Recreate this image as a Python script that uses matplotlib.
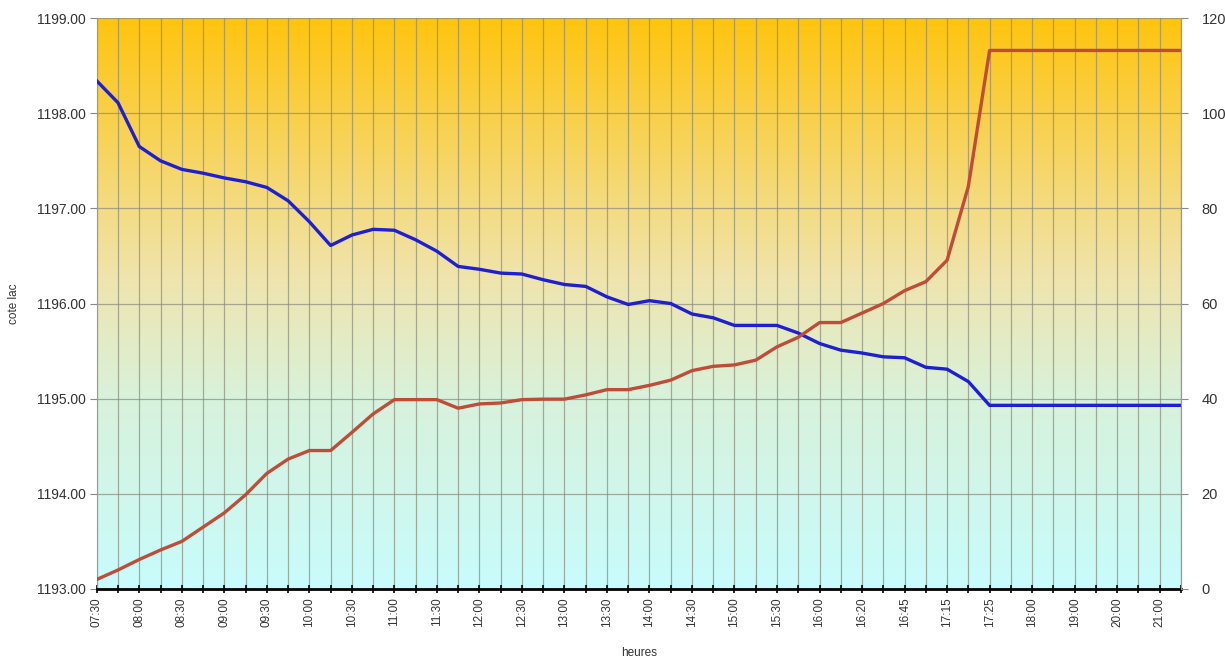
import numpy as np
import matplotlib
matplotlib.use("Agg")
import matplotlib.pyplot as plt
from matplotlib.colors import LinearSegmentedColormap

plt.rcParams.update({
    "font.family": ["Liberation Sans", "DejaVu Sans"],
    "font.size": 9,
})

# categories (15 min steps, later irregular) - labels shown every other one
times = ["07:30", "07:45", "08:00", "08:15", "08:30", "08:45", "09:00", "09:15",
         "09:30", "09:45", "10:00", "10:15", "10:30", "10:45", "11:00", "11:15",
         "11:30", "11:45", "12:00", "12:15", "12:30", "12:45", "13:00", "13:15",
         "13:30", "13:45", "14:00", "14:15", "14:30", "14:45", "15:00", "15:15",
         "15:30", "15:45", "16:00", "16:10", "16:20", "16:30", "16:45", "17:00",
         "17:15", "17:20", "17:25", "17:45", "18:00", "18:30", "19:00", "19:30",
         "20:00", "20:30", "21:00", "21:30"]

# cote lac (left axis)
cote = [1198.34, 1198.11, 1197.65, 1197.50, 1197.41, 1197.37, 1197.32, 1197.28,
        1197.22, 1197.08, 1196.86, 1196.61, 1196.72, 1196.78, 1196.77, 1196.67,
        1196.55, 1196.39, 1196.36, 1196.32, 1196.31, 1196.25, 1196.20, 1196.18,
        1196.07, 1195.99, 1196.03, 1196.00, 1195.89, 1195.85, 1195.77, 1195.77,
        1195.77, 1195.69, 1195.58, 1195.51, 1195.48, 1195.44, 1195.43, 1195.33,
        1195.31, 1195.18, 1194.93, 1194.93, 1194.93, 1194.93, 1194.93, 1194.93,
        1194.93, 1194.93, 1194.93, 1194.93]

# second series (right axis)
serie2 = [2.0, 4.0, 6.2, 8.2, 10.0, 13.0, 16.0, 19.8, 24.3, 27.3, 29.1, 29.1,
          32.9, 36.8, 39.8, 39.8, 39.8, 38.0, 38.9, 39.1, 39.8, 39.9, 39.9, 40.8,
          41.9, 41.9, 42.8, 43.9, 45.9, 46.8, 47.1, 48.1, 50.9, 52.9, 56.0, 56.0,
          58.0, 60.0, 62.7, 64.6, 69.1, 84.6, 113.2, 113.2, 113.2, 113.2, 113.2,
          113.2, 113.2, 113.2, 113.2, 113.2]

left_ticks = [1193, 1194, 1195, 1196, 1197, 1198, 1199]
right_ticks = [0, 20, 40, 60, 80, 100, 120]

fig = plt.figure(figsize=(12.25, 6.6), dpi=100)
ax = fig.add_axes([0.079, 0.1076, 0.885, 0.865])

# gradient background: gold at top -> light cyan at bottom
grad = LinearSegmentedColormap.from_list(
    "bg", [(0.0, "#C8FCFC"), (0.33, "#D8F2DC"), (0.55, "#F0E4AC"), (1.0, "#FFC40E")])
ax.imshow(np.linspace(0, 1, 256).reshape(-1, 1), cmap=grad, origin="lower",
          extent=[0, 1, 0, 1], transform=ax.transAxes, aspect="auto", zorder=-2)

ax.plot(times, cote, color="#1E1ED2", lw=2.4, zorder=3)
ax.set_xlim(0, len(times) - 1)
ax.set_ylim(1193, 1199)
ax.set_yticks(left_ticks)
ax.set_yticklabels([f"{v:.2f}" for v in left_ticks], fontsize=10, color="#333333")
ax.set_xticks(range(len(times)))
ax.set_xticklabels([t if i % 2 == 0 else "" for i, t in enumerate(times)],
                   rotation=90, fontsize=8.5, color="#333333")
ax.grid(True, color="#8a8a7a", lw=0.9, alpha=0.7, zorder=0)
ax.set_axisbelow(True)
ax.tick_params(axis="x", direction="inout", length=6, width=1.2, color="black", pad=3)
ax.tick_params(axis="y", direction="out", length=5, color="#888888", pad=3)
ax.set_xlabel("heures", fontsize=8.5, labelpad=14, color="#333333")
ax.set_ylabel("cote lac", fontsize=8.5, labelpad=12, color="#333333")
ax.spines["bottom"].set_color("black")
ax.spines["bottom"].set_linewidth(2.0)
for s in ("left", "right", "top"):
    ax.spines[s].set_color("#999999")
ax.spines["top"].set_visible(False)

ax2 = ax.twinx()
ax2.plot(times, serie2, color="#C04C38", lw=2.4, zorder=3)
ax2.set_ylim(0, 120)
ax2.set_yticks(right_ticks)
ax2.set_yticklabels([str(v) for v in right_ticks], fontsize=10.5, color="#333333")
ax2.tick_params(axis="y", direction="out", length=5, color="#888888", pad=10)
for s in ("left", "top", "bottom"):
    ax2.spines[s].set_visible(False)
ax2.spines["right"].set_color("#999999")

fig.savefig("out.png", dpi=100, facecolor="white")
